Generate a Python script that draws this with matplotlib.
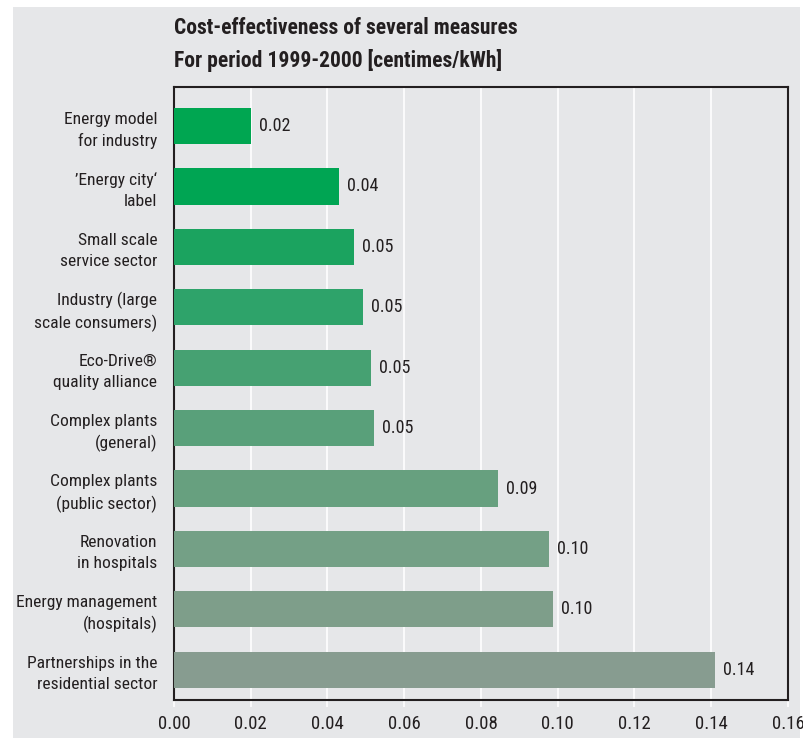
import matplotlib.pyplot as plt
from matplotlib.patches import Rectangle

# condensed face, close to the original news-gothic look
plt.rcParams["font.family"] = ["Roboto Condensed", "DejaVu Sans"]

categories = [
    "Energy model\nfor industry",
    "\u2019Energy city\u2018\nlabel",
    "Small scale\nservice sector",
    "Industry (large\nscale consumers)",
    "Eco-Drive®\nquality alliance",
    "Complex plants\n(general)",
    "Complex plants\n(public sector)",
    "Renovation\nin hospitals",
    "Energy management\n(hospitals)",
    "Partnerships in the\nresidential sector",
]
values = [0.0201, 0.0430, 0.0469, 0.0493, 0.0513, 0.0521, 0.0844, 0.0977, 0.0988, 0.1410]
value_labels = ["0.02", "0.04", "0.05", "0.05", "0.05", "0.05", "0.09", "0.10", "0.10", "0.14"]
colors = ["#00a651", "#00a553", "#1ba35f", "#2ea36a", "#46a172", "#59a07a",
          "#67a07f", "#74a086", "#7e9e8a", "#879c90"]
xticks = [0.00, 0.02, 0.04, 0.06, 0.08, 0.10, 0.12, 0.14, 0.16]

bg = "#e6e7e9"
ink = "#231f20"
fig = plt.figure(figsize=(8.04, 7.38), dpi=100, facecolor="white")
fig.patches.append(Rectangle((13 / 804, 0), 1 - 17 / 804, 1 - 7 / 738,
                             transform=fig.transFigure, facecolor=bg,
                             edgecolor="none", zorder=-10))

ax = fig.add_axes([174 / 804, 38 / 738, 614 / 804, 613 / 738])
ax.set_facecolor(bg)

n = len(categories)
ypos = [n - 1 - i for i in range(n)]
ax.barh(ypos, values, height=0.6, color=colors, zorder=3)

for y, v, lab in zip(ypos, values, value_labels):
    ax.text(v + 0.002, y, lab, va="center", ha="left", fontsize=13, color=ink)

ax.set_xlim(0, 0.16)
ax.set_ylim(-0.5, n - 1 + 0.645)
ax.set_xticks(xticks)
ax.set_xticklabels([f"{t:.2f}" for t in xticks], fontsize=13.5, color=ink)
ax.set_yticks(ypos)
ax.set_yticklabels(categories, fontsize=12.6, color=ink, linespacing=1.45)
ax.tick_params(axis="y", length=0, pad=12)
ax.tick_params(axis="x", length=5, color="white", width=1.2, pad=6)
ax.grid(axis="x", color="white", linewidth=1.2, zorder=1)
for s in ax.spines.values():
    s.set_color(ink)
    s.set_linewidth(1.5)

fig.text(174 / 804, 1 - 28 / 738, "Cost-effectiveness of several measures",
         fontsize=15.5, fontweight="bold", color=ink, va="center")
fig.text(174 / 804, 1 - 60 / 738, "For period 1999-2000 [centimes/kWh]",
         fontsize=15.5, fontweight="bold", color=ink, va="center")

fig.savefig("out.png", dpi=100, facecolor="white")
